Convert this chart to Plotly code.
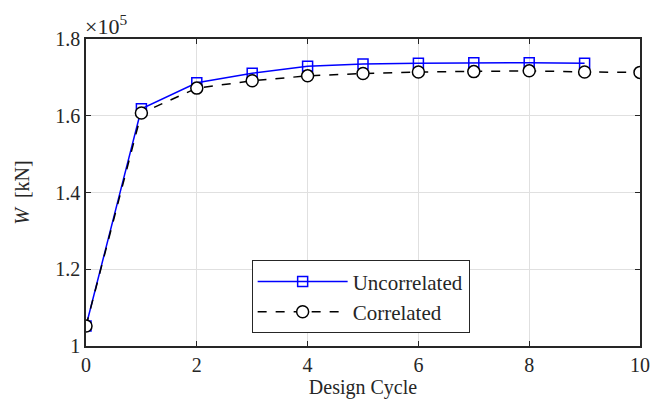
import plotly.graph_objects as go

design_cycle_unc = [0, 1, 2, 3, 4, 5, 6, 7, 8, 9]
w_uncorrelated = [1.052, 1.618, 1.686, 1.711, 1.729, 1.735, 1.737, 1.738, 1.738, 1.737]  # x1e5 kN
design_cycle_cor = [0, 1, 2, 3, 4, 5, 6, 7, 8, 9, 10]
w_correlated = [1.052, 1.607, 1.672, 1.691, 1.704, 1.710, 1.714, 1.715, 1.717, 1.714, 1.713]  # x1e5 kN
x_ticks = [0, 2, 4, 6, 8, 10]
y_ticks = [1.0, 1.2, 1.4, 1.6, 1.8]
y_tick_labels = ["1", "1.2", "1.4", "1.6", "1.8"]

FONT = "Liberation Serif"
FS = 20

fig = go.Figure()
fig.add_trace(go.Scatter(
    x=design_cycle_unc, y=w_uncorrelated, name="Uncorrelated",
    mode="lines+markers",
    line=dict(color="#0000ff", width=1.5),
    marker=dict(symbol="square-open", size=10, color="#0000ff", line=dict(width=1.5)),
))
fig.add_trace(go.Scatter(
    x=design_cycle_cor, y=w_correlated, name="Correlated",
    mode="lines+markers",
    line=dict(color="black", width=1.5, dash="dash"),
    marker=dict(symbol="circle", size=12, color="white", line=dict(color="black", width=1.5)),
))

axis_common = dict(
    showgrid=True, gridcolor="#e0e0e0", gridwidth=1,
    ticks="inside", ticklen=5, tickcolor="#262626", tickwidth=1,
    showline=True, linecolor="#262626", linewidth=1.5, mirror="ticks",
    zeroline=False,
    tickfont=dict(family=FONT, size=FS, color="#262626"),
)

# page body has an 8px default margin, so the figure is sized to fit inside
fig.update_layout(
    width=654, height=396,
    margin=dict(l=78, r=17, t=31, b=54),
    plot_bgcolor="white", paper_bgcolor="white",
    font=dict(family=FONT, size=FS, color="#262626"),
    xaxis=dict(range=[0, 10], tickvals=x_ticks,
               title=dict(text="Design Cycle", standoff=2, font=dict(family=FONT, size=FS)),
               **axis_common),
    yaxis=dict(range=[1.0, 1.8], tickvals=y_ticks, ticktext=y_tick_labels,
               title=dict(text="<i>W</i>  [kN]", standoff=20, font=dict(family=FONT, size=FS)),
               **axis_common),
    legend=dict(
        x=0.299, y=0.279, xanchor="left", yanchor="top",
        bordercolor="#262626", borderwidth=1, bgcolor="white",
        font=dict(family=FONT, size=21, color="#262626"),
        itemwidth=90, tracegroupgap=0,
    ),
    showlegend=True,
)

fig.add_annotation(
    x=0, y=1, xref="paper", yref="paper", xanchor="left", yanchor="bottom",
    text="×10<sup>5</sup>", showarrow=False,
    font=dict(family=FONT, size=22, color="#262626"), yshift=-2, xshift=-3,
)

fig.write_html("out.html")
